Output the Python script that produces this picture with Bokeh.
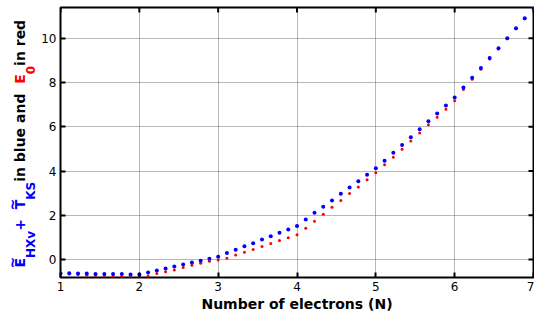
from bokeh.plotting import figure
from bokeh.models import Range1d, FixedTicker, Label
from bokeh.layouts import row
from bokeh.embed import file_html
from bokeh.resources import INLINE
import math

# ---- data ----
n_electrons = [1.000, 1.111, 1.222, 1.333, 1.444, 1.556, 1.667, 1.778, 1.889, 2.000,
               2.111, 2.222, 2.333, 2.444, 2.556, 2.667, 2.778, 2.889, 3.000,
               3.111, 3.222, 3.333, 3.444, 3.556, 3.667, 3.778, 3.889, 4.000,
               4.111, 4.222, 4.333, 4.444, 4.556, 4.667, 4.778, 4.889, 5.000,
               5.111, 5.222, 5.333, 5.444, 5.556, 5.667, 5.778, 5.889, 6.000,
               6.111, 6.222, 6.333, 6.444, 6.556, 6.667, 6.778, 6.889, 7.000]

e_hxv_t_ks = [-0.62, -0.62, -0.63, -0.63, -0.65, -0.65, -0.66, -0.66, -0.68, -0.68,
              -0.59, -0.50, -0.41, -0.32, -0.23, -0.14, -0.06, 0.03, 0.12,
              0.29, 0.44, 0.60, 0.74, 0.90, 1.05, 1.21, 1.36, 1.52,
              1.81, 2.11, 2.38, 2.67, 2.97, 3.25, 3.54, 3.83, 4.12,
              4.46, 4.82, 5.18, 5.53, 5.89, 6.25, 6.60, 6.96, 7.32,
              7.77, 8.21, 8.66, 9.11, 9.55, 10.00, 10.45, 10.90, 11.37]

e_0 = [-0.64, -0.66, -0.68, -0.71, -0.72, -0.74, -0.75, -0.77, -0.78, -0.82,
       -0.74, -0.63, -0.55, -0.47, -0.36, -0.26, -0.17, -0.08, -0.02,
       0.06, 0.20, 0.33, 0.45, 0.59, 0.72, 0.86, 0.98, 1.12,
       1.41, 1.73, 2.05, 2.36, 2.67, 2.98, 3.28, 3.60, 3.92,
       4.28, 4.62, 4.98, 5.36, 5.72, 6.09, 6.43, 6.79, 7.17,
       7.68, 8.15, 8.60, 9.06, 9.52, 9.98, 10.43, 10.88, 11.35]

x_ticks = [1, 2, 3, 4, 5, 6, 7]
y_ticks = [0, 2, 4, 6, 8, 10]
x_label = "Number of electrons (N)"

FONT = "DejaVu Sans"
X_MIN, X_MAX = 1, 7
Y_MIN, Y_MAX = -0.813, 11.39
H = 314

p = figure(width=496, height=H,
           output_backend="svg", toolbar_location=None,
           x_range=Range1d(X_MIN, X_MAX), y_range=Range1d(Y_MIN, Y_MAX),
           min_border_left=22, min_border_right=1, min_border_top=7,
           min_border_bottom=37)
p.background_fill_color = "white"
p.border_fill_color = "white"
p.outline_line_color = "black"
p.outline_line_width = 2

for g in (p.xgrid[0], p.ygrid[0]):
    g.grid_line_color = "#6e6e6e"
    g.grid_line_dash = "1 1"
    g.grid_line_width = 1
p.xgrid.ticker = FixedTicker(ticks=x_ticks)
p.ygrid.ticker = FixedTicker(ticks=y_ticks)

p.scatter(n_electrons, e_0, size=3, color="#ff0000", line_color=None)
p.scatter(n_electrons, e_hxv_t_ks, size=4, color="#0000ff", line_color=None)

p.xaxis.ticker = FixedTicker(ticks=x_ticks)
p.yaxis.ticker = FixedTicker(ticks=y_ticks)
for ax in (p.xaxis[0], p.yaxis[0]):
    ax.axis_line_color = None
    ax.major_tick_in = 5
    ax.major_tick_out = 0
    ax.major_tick_line_width = 2
    ax.minor_tick_line_color = None
    ax.major_label_text_font = FONT
    ax.major_label_text_font_size = "12px"
    ax.major_label_text_color = "black"
    ax.major_label_standoff = 4

p.xaxis.axis_label = x_label
p.xaxis.axis_label_text_font = FONT
p.xaxis.axis_label_text_font_size = "14px"
p.xaxis.axis_label_text_font_style = "bold"
p.xaxis.axis_label_text_color = "black"
p.xaxis.axis_label_standoff = 2

# inward ticks on the top and right edges (mirroring the axis ticks)
p.ray(x=x_ticks, y=[Y_MAX] * len(x_ticks), length=5, length_units="screen",
      angle=-math.pi / 2, line_color="black", line_width=2)
p.ray(x=[X_MAX] * len(y_ticks), y=y_ticks, length=5, length_units="screen",
      angle=math.pi, line_color="black", line_width=2)

# ---- rotated, multi-coloured y-axis label in a narrow side panel ----
lab = figure(width=38, height=H, output_backend="svg", toolbar_location=None,
             x_axis_type=None, y_axis_type=None, title=None,
             x_range=Range1d(0, 38), y_range=Range1d(0, H),
             min_border=0)
lab.outline_line_color = None
lab.background_fill_color = "white"
lab.border_fill_color = "white"
lab.grid.visible = False

W = {' ': 0.348, '+': 0.838, 'E': 0.683, 'H': 0.837, 'X': 0.774, 'v': 0.652,
     'T': 0.682, 'K': 0.775, 'S': 0.720, 'i': 0.343, 'n': 0.712, 'b': 0.716,
     'l': 0.343, 'u': 0.712, 'e': 0.678, 'a': 0.675, 'd': 0.716, 'r': 0.493,
     '0': 0.696}
MAIN, SUB = 14, 12
BLUE, RED, BLACK = "#0000ff", "#ff0000", "black"
pieces = [("E", MAIN, BLUE, "main", True), ("HXv", SUB, BLUE, "sub", False),
          (" + ", MAIN, BLUE, "main", False), ("T", MAIN, BLUE, "main", True),
          ("KS", SUB, BLUE, "sub", False), (" in blue and ", MAIN, BLACK, "main", False),
          ("E", MAIN, RED, "main", False), ("0", SUB, RED, "sub", False),
          (" in red", MAIN, BLACK, "main", False)]
pos = 10.0
X_MAIN, X_SUB, X_TILDE = 19.0, 30.0, 11.5
for txt, size, col, kind, tilde in pieces:
    w = sum(W[c] for c in txt) * size
    lab.add_layout(Label(x=X_MAIN if kind == "main" else X_SUB, y=pos,
                         x_units="screen", y_units="screen", text=txt,
                         angle=math.pi / 2, text_align="left", text_baseline="alphabetic",
                         text_font=FONT, text_font_style="bold",
                         text_font_size=f"{size}px", text_color=col))
    if tilde:
        lab.add_layout(Label(x=X_TILDE, y=pos + w / 2, x_units="screen", y_units="screen",
                             text="~", angle=math.pi / 2, text_align="center",
                             text_baseline="alphabetic", text_font=FONT,
                             text_font_style="bold", text_font_size=f"{MAIN}px",
                             text_color=col))
    pos += w

layout = row(lab, p, spacing=0)
open("out.html", "w").write(file_html(layout, INLINE))
